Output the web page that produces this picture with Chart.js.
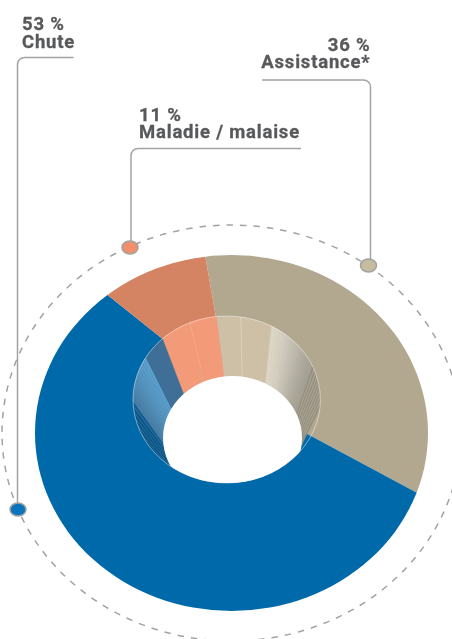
<!DOCTYPE html>
<html>
<head>
<meta charset="utf-8">
<style>
  html, body { margin: 0; background: #fff; }
  #wrap { position: relative; width: 452px; height: 639px; overflow: hidden; }
  canvas { position: absolute; left: 0; top: 0; }
</style>
<script src="https://cdn.jsdelivr.net/npm/chart.js@4"></script>
</head>
<body>
<div id="wrap">
  <canvas id="surface" width="452" height="639"></canvas>
  <canvas id="well" width="452" height="639"></canvas>
</div>
<script>
const categories = ['Assistance*', 'Chute', 'Maladie / malaise'];
const percents = [36, 53, 11];
const surfaceColors = ['#b2a78f', '#0069aa', '#d58463'];
const dotColors = ['#c8bca0', '#0a75bc', '#f2906c'];

// wedge widths of the inner wall, in degrees, left to right
const wallSpans = [
    0.7, 0.2, 0.7, 0.2, 0.7, 0.2, 0.7, 0.2, 0.7, 0.2, 0.7, 0.2,
    0.75, 0.75, 0.75, 0.75, 0.75, 0.75, 0.75, 0.75, 0.75, 0.75, 0.75, 0.75,
    5.7,
    7.3, 0.2, 6.3,
    5.6, 0.2, 7.2, 0.3,
    0.7, 0.7, 0.7, 0.7, 0.7, 0.7, 0.7, 0.7, 0.7, 0.7, 0.7, 0.7, 0.7, 0.7, 0.7, 0.7, 0.7, 0.7,
    0.5, 0.3, 0.5, 0.3, 0.5, 0.3, 0.5, 0.3, 0.5, 0.3, 0.5, 0.3, 0.5, 0.3, 0.5, 0.3, 0.5
];
const wallColors = [
    '#0c5686', '#3f7aa4', '#0c5686', '#3f7aa4', '#0c5686', '#3f7aa4', '#0c5686', '#3f7aa4', '#0c5686', '#457fa8', '#145d8e', '#4a84ac',
    '#4b7ea5', '#4d82a9', '#4f85ad', '#5189b1', '#538db5', '#5590b9', '#5693bd', '#5896c0', '#5998c3', '#5a9ac5', '#5b9cc8', '#5c9eca',
    '#3f6e96',
    '#f39a78', '#f7b498', '#f39a78',
    '#cdc0a6', '#e3dbc9', '#cdc0a6', '#d8d0bc',
    '#ded7c8', '#dcd5c6', '#d9d3c4', '#d6d0c2', '#d3cec0', '#cfcabd', '#cbc6b9', '#c7c2b5', '#c3beb1', '#bfbaae', '#bbb6aa', '#b7b2a6', '#b3aea2', '#afaa9e', '#aca79b', '#a9a498', '#a7a296', '#a5a094',
    '#948e7e', '#b0aa9c', '#948e7e', '#b0aa9c', '#948e7e', '#b0aa9c', '#948e7e', '#b0aa9c', '#948e7e', '#b0aa9c', '#948e7e', '#b0aa9c', '#948e7e', '#b0aa9c', '#948e7e', '#b0aa9c', '#948e7e'
];

const textColor = '#58595b';
const lineColor = '#a2a2a2';

// same wedge, moved and squashed so it sits in the tilted picture
function placeArcs(chart, ax, ay, radius, squash) {
    const arc = chart.getDatasetMeta(0).data[0];
    const s = radius / arc.outerRadius;
    chart.ctx.translate(ax, ay);
    chart.ctx.scale(s, s * squash);
    chart.ctx.translate(-arc.x, -arc.y);
}

function ellipsePath(ctx, x, y, rx, ry) {
    ctx.beginPath();
    ctx.ellipse(x, y, rx, ry, 0, 0, Math.PI * 2);
}

const surfacePlugin = {
    id: 'surfacePlugin',
    beforeDatasetsDraw(chart) {
        const ctx = chart.ctx;
        ctx.save();
        ellipsePath(ctx, 231.5, 433, 196.5, 178);
        ctx.clip();
        placeArcs(chart, 229, 392, 280, 0.906);
    },
    afterDatasetsDraw(chart) {
        chart.ctx.restore();
        drawCallouts(chart.ctx);
    }
};

const wellPlugin = {
    id: 'wellPlugin',
    beforeDatasetsDraw(chart) {
        const ctx = chart.ctx;
        ctx.save();
        ellipsePath(ctx, 226.7, 399.5, 93.7, 83.5);
        ctx.clip();
        ctx.save();
        placeArcs(chart, 247, 559, 270, 1);
    },
    afterDatasetsDraw(chart) {
        const ctx = chart.ctx;
        ctx.restore();
        // the hole
        ctx.fillStyle = '#fff';
        ellipsePath(ctx, 232.5, 438, 69.5, 62);
        ctx.fill();
        ctx.restore();
        ctx.strokeStyle = 'rgba(255,255,255,0.45)';
        ctx.lineWidth = 1;
        ellipsePath(ctx, 226.7, 399.5, 93.7, 83.5);
        ctx.stroke();
    }
};

function leader(ctx, x0, y0, x1, y1) {
    ctx.beginPath();
    ctx.moveTo(x0, y0);
    ctx.arcTo(x1, y0, x1, y1, 7);
    ctx.lineTo(x1, y1);
    ctx.stroke();
}

function dot(ctx, x, y, color) {
    ctx.fillStyle = color;
    ellipsePath(ctx, x, y, 8, 6.6);
    ctx.fill();
    ctx.stroke();
}

function label(ctx, pct, name, x, y, align) {
    ctx.fillStyle = textColor;
    ctx.strokeStyle = textColor;
    ctx.lineWidth = 0.3;
    ctx.font = 'bold 18.5px Roboto';
    ctx.letterSpacing = '0.8px';
    ctx.textAlign = align;
    ctx.fillText(pct + ' %', x, y);
    ctx.strokeText(pct + ' %', x, y);
    ctx.fillText(name, x, y + 17.6);
    ctx.strokeText(name, x, y + 17.6);
    ctx.letterSpacing = '0px';
}

function drawCallouts(ctx) {
    ctx.save();
    ctx.strokeStyle = lineColor;
    ctx.lineWidth = 1.5;
    ctx.setLineDash([6.5, 7]);
    ellipsePath(ctx, 231.5, 433, 229.5, 208);
    ctx.stroke();
    ctx.setLineDash([]);

    leader(ctx, 73.5, 57.5, 17.5, 505);
    leader(ctx, 262, 80, 370.5, 262);
    leader(ctx, 301, 148.5, 131, 243);

    dot(ctx, 368.5, 265.5, dotColors[0]);
    dot(ctx, 18, 509.5, dotColors[1]);
    dot(ctx, 130, 247.5, dotColors[2]);

    label(ctx, percents[0], categories[0], 370.5, 50.7, 'right');
    label(ctx, percents[1], categories[1], 22, 30, 'left');
    label(ctx, percents[2], categories[2], 139, 120.7, 'left');
    ctx.restore();
}

function makeChart(id, values, colors, rotation, circumference, plugin, seam) {
    return new Chart(document.getElementById(id), {
        type: 'doughnut',
        data: {
            labels: values.map((v, i) => categories[i] || String(i)),
            datasets: [{ data: values, backgroundColor: colors, borderColor: colors, borderWidth: seam }]
        },
        options: {
            responsive: false,
            animation: false,
            cutout: 0,
            rotation: rotation,
            circumference: circumference,
            events: [],
            plugins: { legend: { display: false }, tooltip: { enabled: false } }
        },
        plugins: [plugin]
    });
}

makeChart('surface', percents, surfaceColors, -9, 360, surfacePlugin, 0);
makeChart('well', wallSpans, wallColors, -41, wallSpans.reduce((a, b) => a + b, 0), wellPlugin, 0.7);
</script>
</body>
</html>
